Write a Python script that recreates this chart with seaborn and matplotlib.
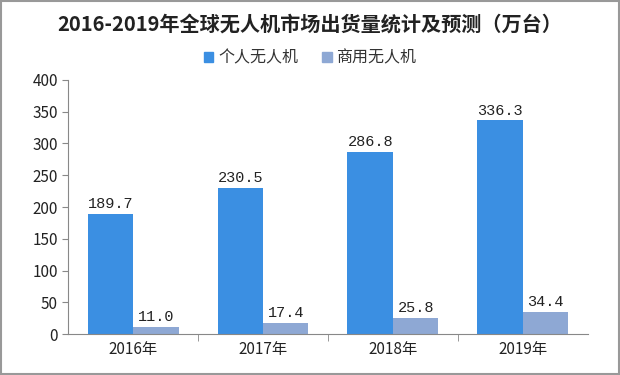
import pandas as pd
import matplotlib.pyplot as plt
import seaborn as sns

years = ['2016年', '2017年', '2018年', '2019年']
personal = [189.7, 230.5, 286.8, 336.3]
commercial = [11.0, 17.4, 25.8, 34.4]
series_names = ['个人无人机', '商用无人机']
title = '2016-2019年全球无人机市场出货量统计及预测（万台）'

df = pd.DataFrame({
    'year': years * 2,
    'value': personal + commercial,
    'kind': [series_names[0]] * 4 + [series_names[1]] * 4,
})

sns.set_style('white')
plt.rcParams['font.family'] = ['Noto Sans CJK SC', 'DejaVu Sans']

fig = plt.figure(figsize=(6.2, 3.75), dpi=100)
ax = fig.add_axes([0.110, 0.109, 0.838, 0.678])

palette = {series_names[0]: '#3b8fe2', series_names[1]: '#8ea8d4'}
sns.barplot(data=df, x='year', y='value', hue='kind', palette=palette,
            width=0.7, saturation=1, linewidth=0, ax=ax, legend=False)

for container in ax.containers:
    ax.bar_label(container, fmt='%.1f', padding=2, fontsize=11, color='#222222',
                 family=['Liberation Mono', 'DejaVu Sans Mono'])

ax.set_ylim(0, 400)
ax.set_yticks(range(0, 401, 50))
ax.set_xlim(-0.5, 3.5)
ax.set_xlabel('')
ax.set_ylabel('')
ax.tick_params(axis='both', labelsize=11, colors='#222222')
ax.tick_params(axis='y', length=4, color='#888888', direction='out', left=True)
ax.tick_params(axis='x', length=0, pad=5)
# separator ticks between categories
ax.set_xticks([0.5, 1.5, 2.5], minor=True)
ax.tick_params(axis='x', which='minor', length=5, color='#888888', bottom=True)

for side in ['top', 'right']:
    ax.spines[side].set_visible(False)
for side in ['left', 'bottom']:
    ax.spines[side].set_color('#888888')
    ax.spines[side].set_linewidth(0.8)

fig.text(0.5, 0.935, title, ha='center', va='center', fontsize=14.5, fontweight='bold',
         color='#222222')

handles = [plt.Rectangle((0, 0), 1, 1, color=palette[n]) for n in series_names]
fig.legend(handles, series_names, loc='center', bbox_to_anchor=(0.5, 0.845), ncol=2,
           frameon=False, fontsize=11.5, handlelength=0.6, handleheight=0.6,
           handletextpad=0.3, columnspacing=1.5, labelcolor='#333333')

# grey outer border
fig.patches.append(plt.Rectangle((0.002, 0.003), 0.996, 0.994, transform=fig.transFigure,
                                 fill=False, edgecolor='#999999', linewidth=1.5))

fig.savefig('out.png', dpi=100)
